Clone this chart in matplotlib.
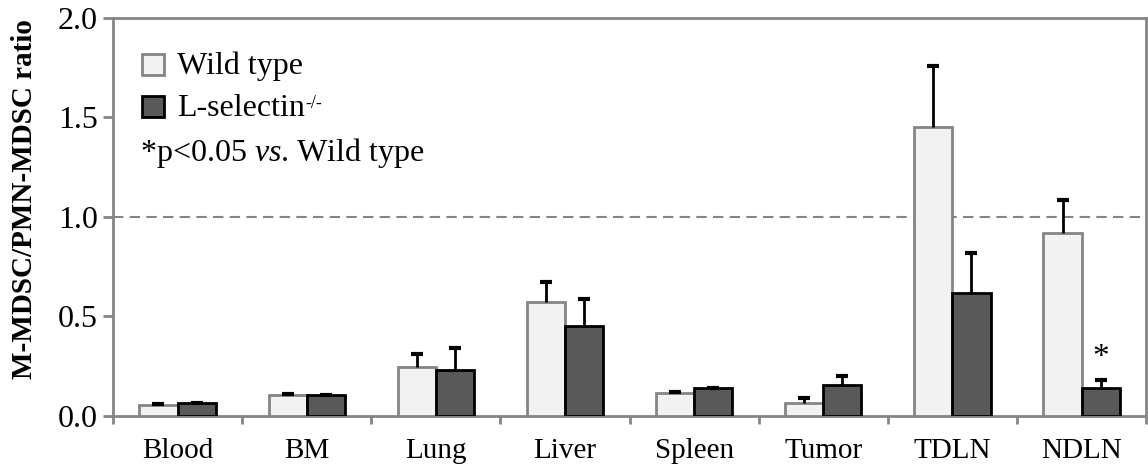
import numpy as np
import matplotlib
matplotlib.use("Agg")
import matplotlib.pyplot as plt
from matplotlib.patches import Rectangle

# ---------------- DATA ----------------
tissues = ["Blood", "BM", "Lung", "Liver", "Spleen", "Tumor", "TDLN", "NDLN"]
wt_mean = [0.055, 0.105, 0.248, 0.571, 0.114, 0.064, 1.452, 0.921]
wt_err = [0.005, 0.008, 0.062, 0.104, 0.006, 0.025, 0.307, 0.164]
ko_mean = [0.064, 0.105, 0.231, 0.452, 0.139, 0.156, 0.616, 0.139]
ko_err = [0.002, 0.002, 0.112, 0.136, 0.003, 0.044, 0.203, 0.042]
signif = [False, False, False, False, False, False, False, True]

# ---------------- STYLE ----------------
plt.rcParams['font.family'] = ['Liberation Serif', 'DejaVu Serif']
plt.rcParams['mathtext.fontset'] = 'custom'
plt.rcParams['mathtext.rm'] = 'Liberation Serif'
plt.rcParams['mathtext.it'] = 'Liberation Serif:italic'
GRAY = "#858585"
WT_FILL, WT_EDGE = "#F2F2F2", GRAY
KO_FILL, KO_EDGE = "#595959", "black"

fig = plt.figure(figsize=(11.48, 4.71), dpi=100)
ax = fig.add_axes([0.0984, 0.1168, 0.9, 0.845])

x = np.arange(len(tissues))
w = 0.295
ax.bar(x - w / 2, wt_mean, w, color=WT_FILL, edgecolor=WT_EDGE, linewidth=2, zorder=3)
ax.bar(x + w / 2, ko_mean, w, color=KO_FILL, edgecolor=KO_EDGE, linewidth=2, zorder=3)

# upper error bars only (hide the lower caps)
for xs, m, e in [(x - w / 2, wt_mean, wt_err), (x + w / 2, ko_mean, ko_err)]:
    eb = ax.errorbar(xs, m, yerr=[np.zeros(len(x)), e], fmt='none',
                     ecolor='black', elinewidth=2, capsize=4, capthick=3, zorder=4)
    eb[1][0].set_visible(False)

for i, s in enumerate(signif):
    if s:
        ax.text(x[i] + w / 2, ko_mean[i] + ko_err[i] + 0.035, '*', ha='center',
                va='bottom', fontsize=24)

ax.axhline(1.0, color=GRAY, linestyle=(0, (5, 3)), linewidth=1.5, zorder=1)

ax.set_xlim(-0.5, len(tissues) - 0.5)
ax.set_ylim(0, 2.0)
ax.set_yticks([0.0, 0.5, 1.0, 1.5, 2.0])
ax.set_yticklabels(["0.0", "0.5", "1.0", "1.5", "2.0"])
ax.set_xticks(x)
ax.set_xticklabels(tissues)
ax.set_xticks(np.arange(len(tissues) + 1) - 0.5, minor=True)
ax.tick_params(axis='x', which='major', length=0, labelsize=21, pad=16)
ax.tick_params(axis='x', which='minor', length=6, width=2, color=GRAY, direction='out')
ax.tick_params(axis='y', length=7, width=2, color=GRAY, labelsize=23, pad=4)

for sp in ax.spines.values():
    sp.set_color(GRAY)
    sp.set_linewidth(2)

ax.set_ylabel("M-MDSC/PMN-MDSC ratio", fontsize=21, fontweight='bold')
ax.yaxis.set_label_coords(-0.073, 0.545)

# legend drawn by hand
ax.add_patch(Rectangle((0.028, 0.857), 0.021, 0.052, transform=ax.transAxes,
                       facecolor=WT_FILL, edgecolor=WT_EDGE, linewidth=2, clip_on=False))
ax.add_patch(Rectangle((0.028, 0.752), 0.021, 0.052, transform=ax.transAxes,
                       facecolor=KO_FILL, edgecolor=KO_EDGE, linewidth=2, clip_on=False))
ax.text(0.062, 0.878, "Wild type", transform=ax.transAxes, fontsize=23, va='center')
ko_txt = ax.text(0.062, 0.773, "L-selectin", transform=ax.transAxes, fontsize=23, va='center')
ax.annotate("-/-", xy=(1, 0.95), xycoords=ko_txt, fontsize=13, va='top', ha='left')
ax.text(0.026, 0.660, r"*p<0.05 $\it{vs}$. Wild type", transform=ax.transAxes,
        fontsize=23, va='center')

fig.savefig("out.png", dpi=100)
